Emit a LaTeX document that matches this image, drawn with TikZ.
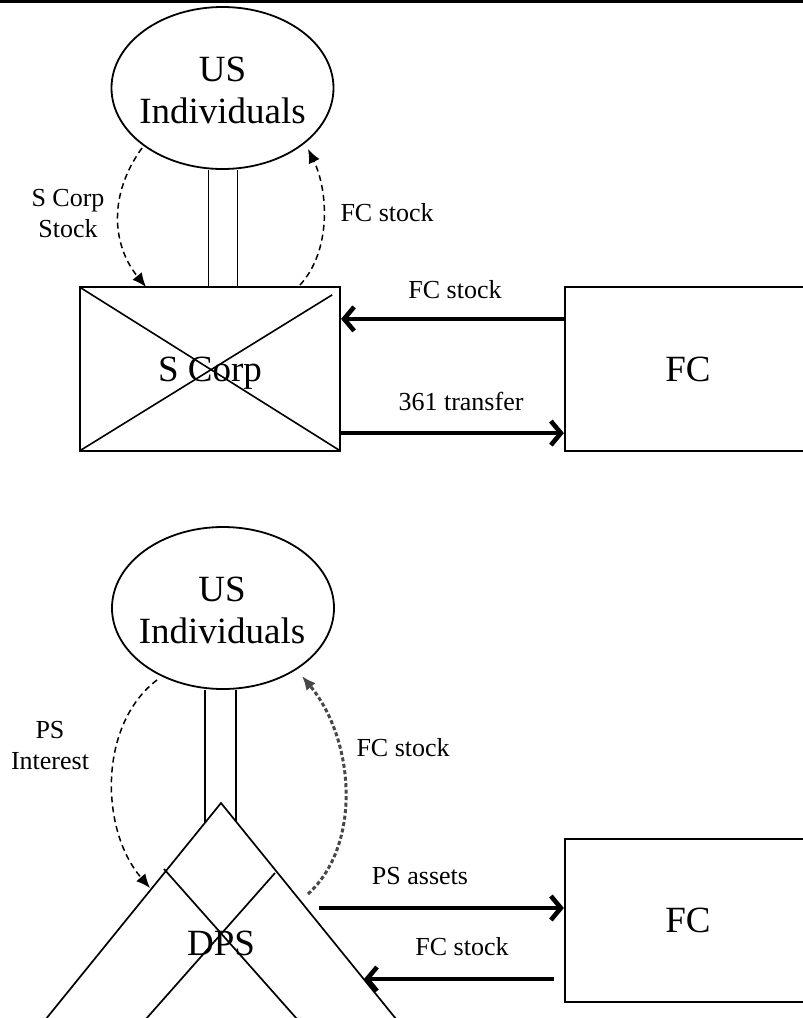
\documentclass[tikz,border=0pt]{standalone}
\usepackage{fontspec}
\setmainfont{Liberation Serif}
\usetikzlibrary{shapes.geometric,arrows.meta,calc}
\tikzset{
  bigtxt/.style={font=\fontsize{37}{42}\selectfont},
  smalltxt/.style={font=\fontsize{26}{31}\selectfont, align=center},
  owner/.style={ellipse, draw, line width=1.8pt, minimum width=222pt, minimum height=162pt, inner sep=0pt, bigtxt, align=center},
  entity/.style={rectangle, draw, line width=2.2pt, inner sep=0pt, bigtxt},
  flow/.style={line width=4.6pt, -{Straight Barb[length=10pt,width=24pt,line width=4.6pt]}},
  dflow/.style={line width=1.5pt, dash pattern=on 6pt off 4pt, -{Latex[length=14pt,width=12pt]}},
  gflow/.style={line width=3pt, draw=black!72, dash pattern=on 4pt off 2.5pt, -{Latex[length=14pt,width=12pt,fill=black!72]}},
  tie/.style={line width=1.6pt}
}
\begin{document}
\begin{tikzpicture}[x=1pt,y=-1pt]
\useasboundingbox (0,0) rectangle (803,1018);
\fill[black] (0,0) rectangle (803,3);
% ---------- top diagram ----------
\node[owner] (ind1) at (222.5,88) {};
\node[bigtxt, align=center] (ind1txt) at (222.5,90) {US\\Individuals};
\node[entity, minimum width=260pt, minimum height=164pt] (scorp) at (210,369) {};
\draw[line width=1.6pt] ([shift={(2,2)}]scorp.north west) -- ([shift={(-2,-2)}]scorp.south east);
\draw[line width=1.6pt] ([shift={(2,-2)}]scorp.south west) -- ([shift={(-9,9)}]scorp.north east);
\node[bigtxt] (scorptxt) at (210,373) {S Corp};
\node[entity, minimum width=246pt, minimum height=164pt] (fc1) at (688,369) {FC};
\draw[tie] ([xshift=-14pt]ind1.south) -- ([xshift=-14pt]ind1.south |- scorp.north);
\draw[tie] ([xshift=15pt]ind1.south) -- ([xshift=15pt]ind1.south |- scorp.north);
\coordinate (a1s) at (142,148);
\coordinate (a1e) at (146,287);
\draw[dflow] (a1s) .. controls (108,195) and (112,245) .. (a1e);
\coordinate (a2s) at (300,285);
\coordinate (a2e) at (308,149);
\draw[dflow] (a2s) .. controls (332,250) and (328,190) .. (a2e);
\node[smalltxt] (l1) at (68,214) {S Corp\\Stock};
\node[smalltxt, anchor=west] (l2) at (337,213) {FC stock};
\draw[flow] ([yshift=-33pt]fc1.north west) -- ([yshift=-33pt]scorp.north east);
\draw[flow] ([yshift=19pt]scorp.south east) -- ([yshift=19pt]fc1.south west);
\node[smalltxt] (l3) at (455,290) {FC stock};
\node[smalltxt] (l4) at (461,401) {361 transfer};
% ---------- bottom diagram ----------
\node[owner] (ind2) at (223,608) {};
\node[bigtxt, align=center] (ind2txt) at (222,610) {US\\Individuals};
\coordinate (apex) at (221,803);
\coordinate (bl) at (37,1030);
\coordinate (br) at (405,1030);
\draw[line width=1.7pt] (bl) -- (apex) -- (br);
\draw[line width=1.7pt] (164,869) -- (305,1028);
\draw[line width=1.7pt] (275,873) -- (138,1028);
\node[bigtxt] (dps) at (221,943) {DPS};
\draw[tie] (205,690) -- (205,823);
\draw[tie] (236,690) -- (236,822);
\node[entity, minimum width=246pt, minimum height=163pt] (fc2) at (688,920.5) {FC};
\coordinate (b1s) at (157,680);
\coordinate (b1e) at (150,888);
\draw[dflow] (b1s) .. controls (98,725) and (100,830) .. (b1e);
\coordinate (b2s) at (308,894);
\coordinate (b2e) at (302,676);
\draw[gflow] (b2s) .. controls (362,845) and (355,740) .. (b2e);
\node[smalltxt] (l5) at (50,746) {PS\\Interest};
\node[smalltxt, anchor=west] (l6) at (353,748) {FC stock};
\coordinate (psa) at (319,908);
\draw[flow] (psa) -- (fc2.west |- psa);
\coordinate (fcs) at (364,979);
\draw[flow] ([xshift=-10pt]fc2.west |- fcs) -- (fcs);
\node[smalltxt] (l7) at (420,876) {PS assets};
\node[smalltxt] (l8) at (462,947) {FC stock};
\end{tikzpicture}
\end{document}
